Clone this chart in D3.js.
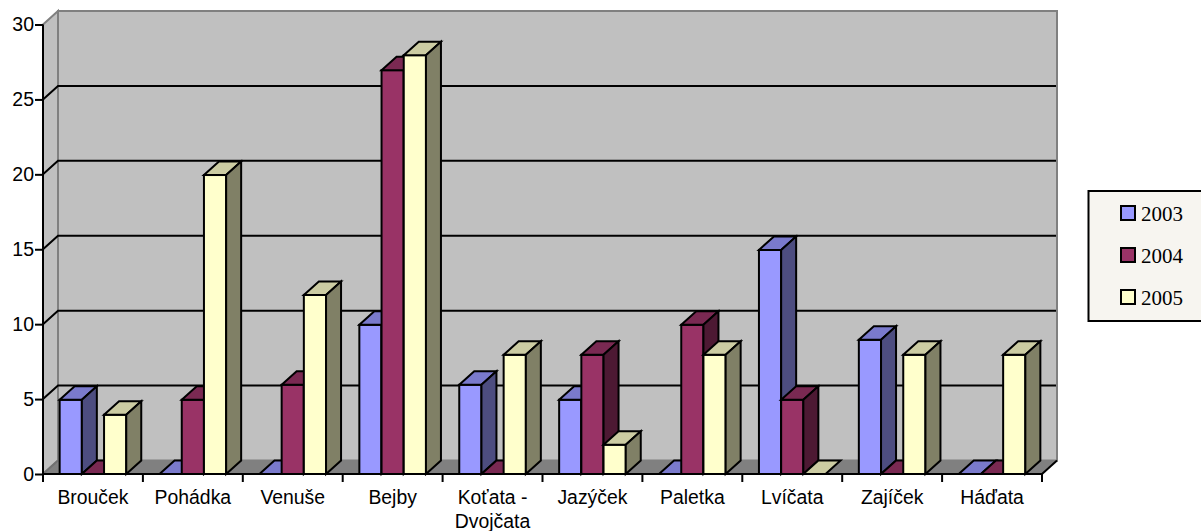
<!DOCTYPE html>
<html><head><meta charset="utf-8">
<script src="https://cdn.jsdelivr.net/npm/d3@7"></script>
<style>html,body{margin:0;padding:0;background:#fff;overflow:hidden}svg{display:block}</style>
</head><body><svg id="c" width="1201" height="531"></svg>
<script>
const categories = [["Brouček"],["Pohádka"],["Venuše"],["Bejby"],["Koťata -","Dvojčata"],["Jazýček"],["Paletka"],["Lvíčata"],["Zajíček"],["Háďata"]];
const seriesNames = ["2003","2004","2005"];
const s2003 = [5,0,0,10,6,5,0,15,9,0];
const s2004 = [0,5,6,27,0,8,10,5,0,0];
const s2005 = [4,20,12,28,8,2,8,0,8,8];
const yTicks = [0,5,10,15,20,25,30];
const colors = ["#9999FF","#993366","#FFFFCC"];
const tops = ["#7A7ACC","#7A2952","#CCCCA3"];
const sides = ["#4D4D80","#4D1933","#808066"];

const series = [s2003,s2004,s2005];
const L=43,R=1042,T=24.5,B=474,dx=15,dy=13.5;
const svg=d3.select("#c");
const keys=categories.map(c=>c.join(" "));
const x=d3.scaleBand().domain(keys).range([L,R]).paddingInner(1/3).paddingOuter(1/6);
const xs=d3.scaleBand().domain(seriesNames).range([0,x.bandwidth()]);
const y=d3.scaleLinear().domain([0,30]).range([B,T]);
const poly=p=>p.map(q=>q.join(",")).join(" ");

// walls and floor
svg.append("polygon").attr("points",poly([[L,T],[L+dx,T-dy],[L+dx,B-dy],[L,B]])).attr("fill","#C0C0C0").attr("stroke","#808080").attr("stroke-width",2);
svg.append("rect").attr("x",L+dx).attr("y",T-dy).attr("width",R-L).attr("height",B-T).attr("fill","#C0C0C0").attr("stroke","#808080").attr("stroke-width",2);
// gridlines
yTicks.filter(t=>t>0&&t<30).forEach(t=>{
  svg.append("polyline").attr("points",poly([[L,y(t)],[L+dx,y(t)-dy],[R+dx-1,y(t)-dy]])).attr("fill","none").attr("stroke","#000").attr("stroke-width",2);
});
svg.append("polygon").attr("points",poly([[L,B],[L+dx,B-dy],[R+dx,B-dy],[R,B]])).attr("fill","#808080");
svg.append("line").attr("x1",R).attr("y1",B).attr("x2",R+dx).attr("y2",B-dy).attr("stroke","#000").attr("stroke-width",2);
svg.append("line").attr("x1",L).attr("y1",B).attr("x2",L+dx).attr("y2",B-dy).attr("stroke","#707070").attr("stroke-width",2);

// bars
const g=svg.append("g").attr("stroke","#000").attr("stroke-width",2).attr("stroke-linejoin","miter");
keys.forEach((k,i)=>{
  seriesNames.forEach((n,j)=>{
    const v=series[j][i];
    const x0=x(k)+xs(n),x1=x0+xs.bandwidth(),yt=v>0?y(v)+0.7:B;
    if(v>0) g.append("rect").attr("x",x0).attr("y",yt).attr("width",x1-x0).attr("height",B-yt).attr("fill",colors[j]);
    g.append("polygon").attr("points",poly([[x0,yt],[x0+dx,yt-dy],[x1+dx,yt-dy],[x1,yt]])).attr("fill",tops[j]);
    if(v>0) g.append("polygon").attr("points",poly([[x1,yt],[x1+dx,yt-dy],[x1+dx,B-dy],[x1,B]])).attr("fill",sides[j]);
  });
});

// axes
const ax=svg.append("g").attr("transform",`translate(${L},0)`)
  .call(d3.axisLeft(y).tickValues(yTicks).tickFormat(d3.format("d")).tickSize(8).tickPadding(1));
ax.selectAll("path").attr("d",`M0,${T}V${B}`).attr("stroke","#000").attr("stroke-width",2);
ax.selectAll("line").attr("stroke","#000").attr("stroke-width",2);
ax.selectAll("text").attr("font-family","'Liberation Sans',Arial,sans-serif").attr("font-size",19.5).attr("fill","#000");

const ax2=svg.append("g").attr("transform",`translate(0,${B})`)
  .call(d3.axisBottom(x).tickSize(0).tickFormat(""));
ax2.selectAll("path").attr("d",`M${L},0H${R}`).attr("stroke","#000").attr("stroke-width",2);
ax2.selectAll(".tick").remove();
const step=x.step();
ax2.selectAll(".t").data(d3.range(keys.length+1)).enter().append("line")
  .attr("x1",i=>L+i*step).attr("x2",i=>L+i*step).attr("y1",0).attr("y2",8).attr("stroke","#000").attr("stroke-width",2);
const lab=svg.append("g").attr("font-family","'Liberation Sans',Arial,sans-serif").attr("font-size",19.4).attr("fill","#000").attr("text-anchor","middle");
categories.forEach((c,i)=>{
  const cx=x(keys[i])+x.bandwidth()/2;
  c.forEach((t,l)=>lab.append("text").attr("x",cx).attr("y",504+l*24).text(t));
});

// legend
svg.append("rect").attr("x",1088.5).attr("y",191).attr("width",125).attr("height",130).attr("fill","#F7F5F0").attr("stroke","#000").attr("stroke-width",2);
seriesNames.forEach((n,j)=>{
  const yy=206+j*42;
  svg.append("rect").attr("x",1121).attr("y",yy).attr("width",14).attr("height",14).attr("fill",colors[j]).attr("stroke","#000").attr("stroke-width",2);
  svg.append("text").attr("x",1141).attr("y",yy+14.5).attr("font-family","'Liberation Serif','Times New Roman',serif").attr("font-size",21).attr("fill","#000").text(n);
});
</script></body></html>
